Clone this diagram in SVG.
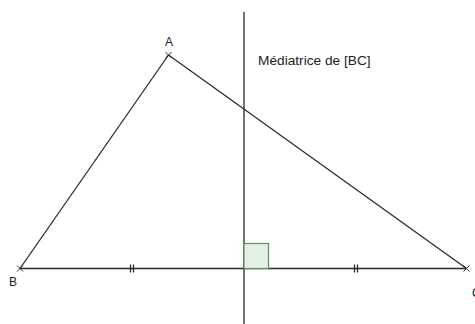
<svg xmlns="http://www.w3.org/2000/svg" width="475" height="324" viewBox="0 0 475 324">
<style>
.seg{stroke:#2a2a2a;stroke-width:1.3;fill:none}
.pt{stroke:#2a2a2a;stroke-width:1;fill:none}
.lbl{font-family:"Liberation Sans",Arial,sans-serif;font-size:12px;fill:#222}
</style>
<rect width="475" height="324" fill="#fff"/>
<g id="connectors">
<line class="seg" x1="20" y1="268.5" x2="466.5" y2="268.5"/>
<line class="seg" x1="20" y1="268.5" x2="168.5" y2="55"/>
<line class="seg" x1="168.5" y1="55" x2="466.5" y2="268.5"/>
<line class="seg" x1="244" y1="12" x2="244" y2="324"/>
<path class="seg" d="M130.5 264.5v8M133.5 264.5v8M354.5 264.5v8M357.5 264.5v8"/>
</g>
<g id="right-angle">
<rect x="244" y="243.5" width="24.5" height="25" fill="#e5efe5" stroke="#4a9a4a" stroke-width="1.2"/>
</g>
<g id="A">
<path class="pt" d="M165.5 52l6 6M171.5 52l-6 6"/>
<text class="lbl" x="165" y="46">A</text>
</g>
<g id="B">
<path class="pt" d="M17 265.5l6 6M23 265.5l-6 6"/>
<text class="lbl" x="9" y="286">B</text>
</g>
<g id="C">
<path class="pt" d="M463.5 265.5l6 6M469.5 265.5l-6 6"/>
<text class="lbl" x="472" y="297">C</text>
</g>
<g id="mediatrice">
<text class="lbl" x="258" y="65" style="font-size:13.7px">Médiatrice de [BC]</text>
</g>
</svg>
